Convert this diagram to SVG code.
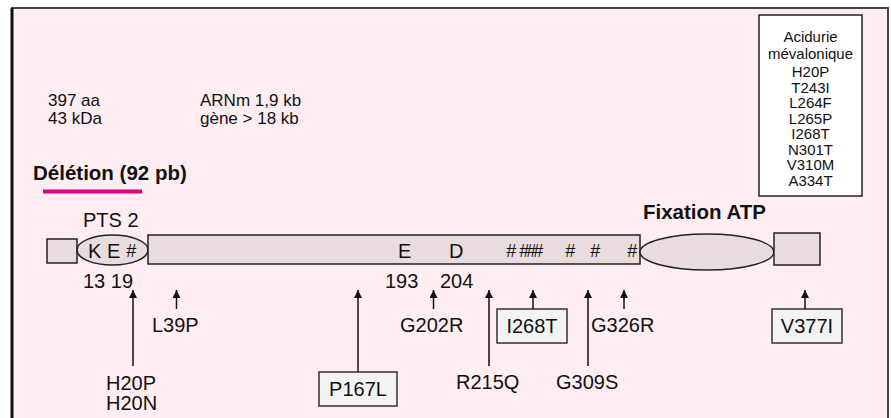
<svg xmlns="http://www.w3.org/2000/svg" width="891" height="418" viewBox="0 0 891 418">
<style>
text{font-family:"Liberation Sans",Arial,sans-serif;fill:#111}
.t{font-size:17px}
.m{font-size:20px}
.b{font-size:20.5px;font-weight:bold}
.s{font-size:15px;text-anchor:middle}
.h{font-size:18px;font-style:italic}
.node{fill:#E8DCDF;stroke:#222;stroke-width:1.5}
.mbox{fill:#F3F3F3;stroke:#333;stroke-width:1.5}
.arr{stroke:#111;stroke-width:1.5;fill:none;marker-end:url(#ah)}
</style>
<defs>
<marker id="ah" viewBox="0 0 10 10" refX="10" refY="5" orient="auto" markerUnits="userSpaceOnUse" markerWidth="9" markerHeight="8">
<path d="M0,0 L10,5 L0,10 z" fill="#111"/>
</marker>
</defs>
<rect x="12" y="8" width="876" height="430" fill="#FFEEF1" stroke="#444" stroke-width="2"/>
<line x1="12" y1="8" x2="12" y2="418" stroke="#111" stroke-width="3"/>

<g id="info">
<text class="t" x="48" y="106">397 aa</text>
<text class="t" x="48" y="124">43 kDa</text>
<text class="t" x="200" y="106">ARNm 1,9 kb</text>
<text class="t" x="200" y="124">gène &gt; 18 kb</text>
</g>

<g id="legend">
<rect x="759" y="15" width="103" height="181" fill="#fff" stroke="#222" stroke-width="1.5"/>
<text class="s" x="810.5" y="42">Acidurie</text>
<text class="s" x="810.5" y="59">mévalonique</text>
<text class="s" x="810.5" y="77">H20P</text>
<text class="s" x="810.5" y="92.5">T243I</text>
<text class="s" x="810.5" y="108">L264F</text>
<text class="s" x="810.5" y="123.5">L265P</text>
<text class="s" x="810.5" y="139">I268T</text>
<text class="s" x="810.5" y="154.5">N301T</text>
<text class="s" x="810.5" y="170">V310M</text>
<text class="s" x="810.5" y="185.5">A334T</text>
</g>

<g id="deletion">
<text class="b" x="33" y="180">Délétion (92 pb)</text>
<line x1="43" y1="191.5" x2="142" y2="191.5" stroke="#E4007C" stroke-width="4"/>
</g>

<g id="pts2">
<text class="m" x="83" y="227">PTS 2</text>
</g>

<g id="box-left">
<rect class="node" x="47" y="239" width="30" height="24"/>
</g>

<g id="ellipse-pts">
<ellipse class="node" cx="112.5" cy="250" rx="35.5" ry="15"/>
<text class="m" x="88" y="258" font-size="19">K</text>
<text class="m" x="107" y="258" font-size="19">E</text>
<text class="h" x="126" y="257">#</text>
</g>

<g id="main-domain">
<rect class="node" x="148" y="235" width="492" height="29"/>
<text class="m" x="398" y="258" font-size="19">E</text>
<text class="m" x="449" y="258" font-size="19">D</text>
<text class="h" x="506" y="257">#</text>
<text class="h" x="519" y="257" letter-spacing="-3">###</text>
<text class="h" x="565" y="257">#</text>
<text class="h" x="590" y="257">#</text>
<text class="h" x="627" y="257">#</text>
</g>

<g id="atp">
<text class="b" x="643" y="219" font-size="21">Fixation ATP</text>
<ellipse class="node" cx="707" cy="252" rx="67" ry="18"/>
</g>

<g id="box-right">
<rect class="node" x="774" y="233" width="46" height="32"/>
</g>

<g id="positions">
<text class="m" x="83" y="288">13 19</text>
<text class="m" x="385" y="288">193</text>
<text class="m" x="440" y="288">204</text>
</g>

<g id="connectors">
<line class="arr" x1="133" y1="366" x2="133" y2="290"/>
<line class="arr" x1="176.5" y1="309" x2="176.5" y2="290"/>
<line class="arr" x1="358" y1="372" x2="358" y2="290"/>
<line class="arr" x1="433.5" y1="309" x2="433.5" y2="290"/>
<line class="arr" x1="489" y1="366" x2="489" y2="290"/>
<line class="arr" x1="533" y1="309" x2="533" y2="290"/>
<line class="arr" x1="588" y1="366" x2="588" y2="290"/>
<line class="arr" x1="624" y1="309" x2="624" y2="290"/>
<line class="arr" x1="805" y1="309" x2="805" y2="290"/>
</g>

<g id="mut-H20">
<text class="m" x="106" y="390">H20P</text>
<text class="m" x="106" y="410">H20N</text>
</g>
<g id="mut-L39P"><text class="m" x="152" y="332">L39P</text></g>
<g id="mut-P167L">
<rect class="mbox" x="319" y="372" width="78" height="34"/>
<text class="m" x="358" y="396" text-anchor="middle">P167L</text>
</g>
<g id="mut-G202R"><text class="m" x="400" y="332">G202R</text></g>
<g id="mut-R215Q"><text class="m" x="456" y="389">R215Q</text></g>
<g id="mut-I268T">
<rect class="mbox" x="497" y="309" width="70" height="34"/>
<text class="m" x="532" y="333" text-anchor="middle">I268T</text>
</g>
<g id="mut-G309S"><text class="m" x="556" y="389">G309S</text></g>
<g id="mut-G326R"><text class="m" x="591" y="332">G326R</text></g>
<g id="mut-V377I">
<rect class="mbox" x="772" y="309" width="70" height="34"/>
<text class="m" x="807" y="333" text-anchor="middle">V377I</text>
</g>
</svg>
